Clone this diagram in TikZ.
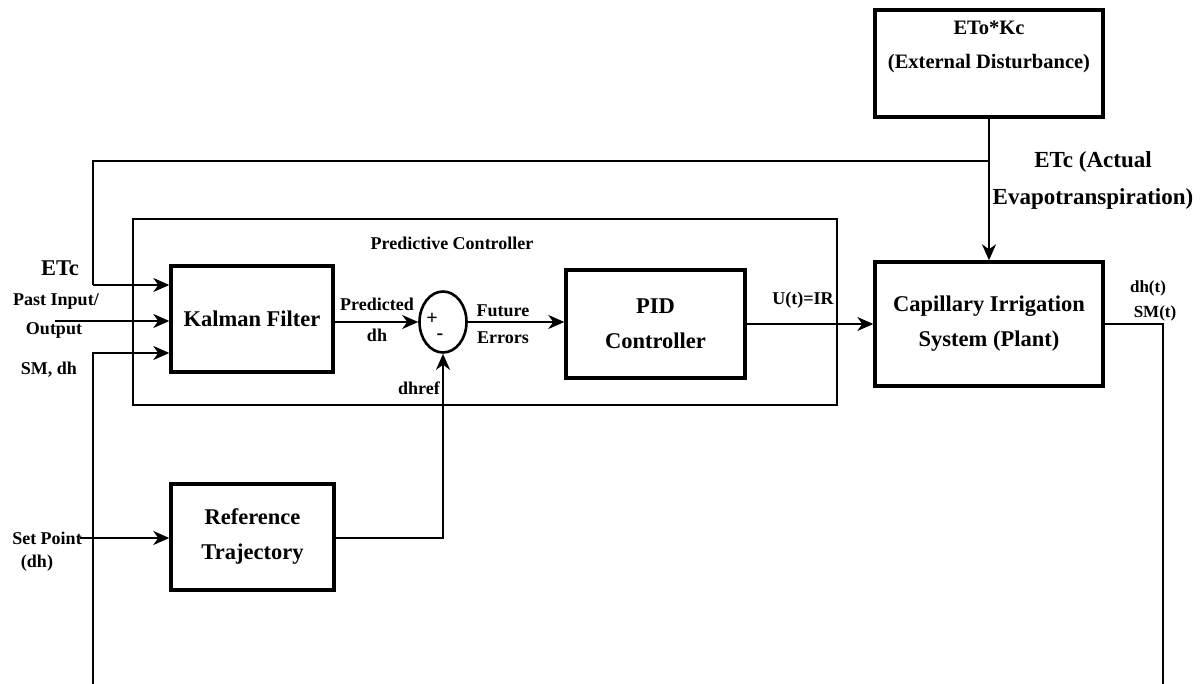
\documentclass[tikz,border=0pt]{standalone}
\usepackage{fontspec}
\setmainfont{Liberation Serif}
\usetikzlibrary{arrows.meta,shapes.geometric}
\begin{document}
\begin{tikzpicture}[x=1pt,y=-1pt,
  blk/.style={draw, line width=3.4pt, inner sep=0pt},
  conn/.style={line width=2pt},
  arr/.style={conn, -{Stealth[length=16pt,width=14pt,inset=5pt]}},
  lbl/.style={font=\fontsize{18}{28}\selectfont\bfseries, inner sep=0pt, align=center},
  big/.style={font=\fontsize{22.5}{35}\selectfont\bfseries, inner sep=0pt, align=center}
]
\useasboundingbox (0,0) rectangle (1200,684);
% container
\node[draw, line width=1.8pt, minimum width=704pt, minimum height=186pt, inner sep=0pt] (pc) at (485,312) {};
\node[lbl] (pctxt) at (452,243) {Predictive Controller};
% blocks
\node[blk, minimum width=228pt, minimum height=107pt] (dist) at (989,63.5) {};
\node[font=\fontsize{20.5}{34}\selectfont\bfseries, align=center, inner sep=0pt] (disttxt) at (989,47) {ETo*Kc\\(External Disturbance)};
\node[blk, big, minimum width=228pt, minimum height=124pt] (plant) at (989,324) {Capillary Irrigation\\System (Plant)};
\node[blk, big, minimum width=162pt, minimum height=106pt] (kf) at (252,319) {Kalman Filter};
\node[blk, big, minimum width=179pt, minimum height=108pt] (pid) at (655.5,324) {PID\\Controller};
\node[blk, big, minimum width=163pt, minimum height=106pt] (ref) at (252.5,537) {Reference\\Trajectory};
\node[draw, ellipse, line width=2.6pt, minimum width=47pt, minimum height=61pt, inner sep=0pt] (sum) at (443,322) {};
\node[font=\fontsize{20}{20}\selectfont\bfseries, inner sep=0pt] (plus) at (432,319) {+};
\node[font=\fontsize{20}{20}\selectfont\bfseries, inner sep=0pt] (minus) at (440,337) {-};
% coordinates
\coordinate (j1) at (989,161);
\coordinate (c1) at (93,161);
\coordinate (c2) at (93,285);
\coordinate (pin) at (55,321);
\coordinate (fb) at (93,684);
\coordinate (fbk) at (93,353);
\coordinate (out1) at (1163,324);
\coordinate (out2) at (1163,684);
\coordinate (sp) at (80,538);
\coordinate (rc) at (443,538);
% connectors
\draw[arr] (dist.south) -- (plant.north);
\draw[conn] (j1) -- (c1) -- (c2);
\draw[arr] (c2) -- (kf.west |- c2);
\draw[arr] (pin) -- (kf.west |- pin);
\draw[arr] (fb) -- (fbk) -- (kf.west |- fbk);
\draw[conn] (plant.east |- out1) -- (out1) -- (out2);
\draw[arr] (kf.east |- sum.west) -- (sum.west);
\draw[arr] (sum.east) -- (pid.west |- sum.east);
\draw[arr] (pid.east |- plant.west) -- (plant.west);
\draw[arr] (sp) -- (ref.west |- sp);
\draw[arr] (ref.east |- rc) -- (rc) -- (sum.south);
% labels
\node[lbl] (l1) at (377,304) {Predicted};
\node[lbl] (l2) at (377,335) {dh};
\node[lbl] (l3) at (419,388) {dhref};
\node[lbl] (l4) at (503,311) {Future};
\node[lbl] (l5) at (503,338) {Errors};
\node[lbl] (l6) at (803,300) {U(t)=IR};
\node[font=\fontsize{17}{20}\selectfont\bfseries, inner sep=0pt] (l7) at (1148,288) {dh(t)};
\node[font=\fontsize{17}{20}\selectfont\bfseries, inner sep=0pt] (l8) at (1155,313) {SM(t)};
\node[font=\fontsize{23}{37}\selectfont\bfseries, align=center, inner sep=0pt] (l9) at (1093,180.5) {ETc (Actual\\Evapotranspiration)};
\node[font=\fontsize{22.5}{25}\selectfont\bfseries, inner sep=0pt] (l10) at (60,268) {ETc};
\node[lbl] (l11) at (56,301) {Past Input/};
\node[lbl] (l12) at (54,330) {Output};
\node[lbl] (l13) at (49,370) {SM, dh};
\node[lbl] (l14) at (47,538) {Set Point};
\node[lbl] (l15) at (37,563) {(dh)};
\end{tikzpicture}
\end{document}
